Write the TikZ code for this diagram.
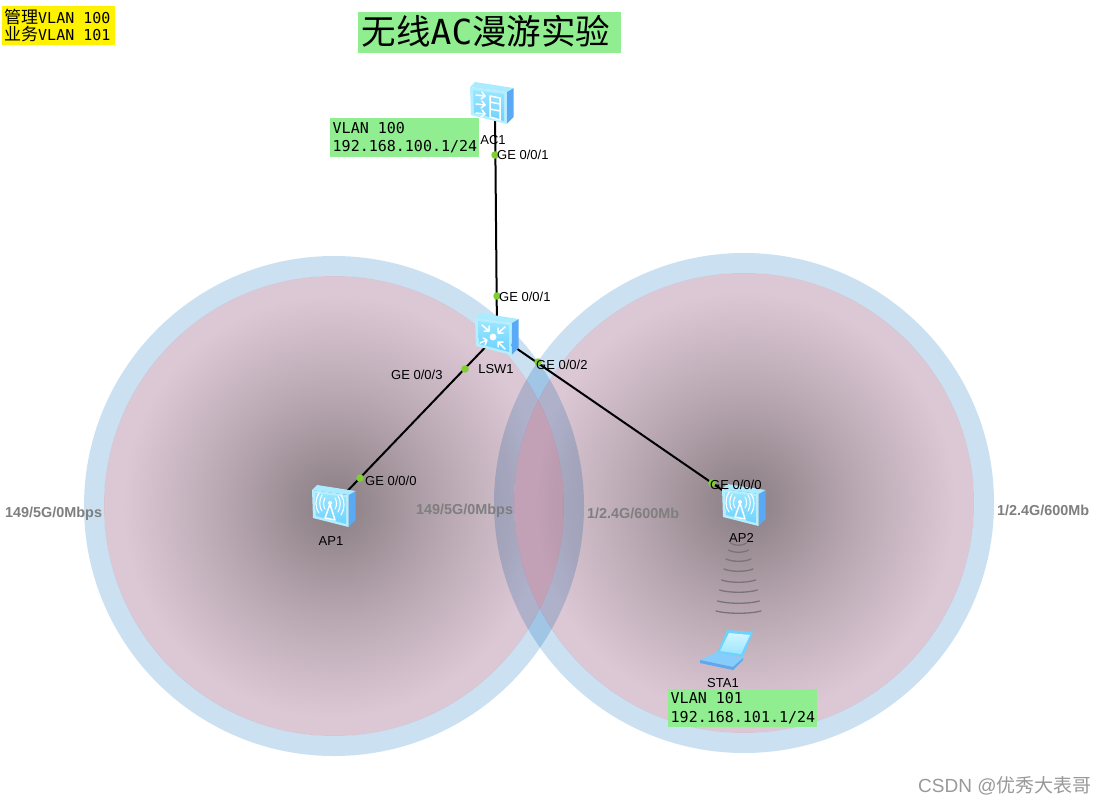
\documentclass[tikz,border=0pt]{standalone}
\usepackage{fontspec}
\setmainfont{Liberation Sans}
\newfontfamily\cjkfont{Noto Sans CJK SC}
\newfontfamily\monofont{DejaVu Sans Mono}
\usetikzlibrary{calc}
\definecolor{ringblue}{HTML}{CBE1F2}
\definecolor{pinkedge}{HTML}{DCC8D5}
\definecolor{pinkcore}{HTML}{8A7D83}
\definecolor{lenspink}{HTML}{E2CEDB}
\definecolor{notegreen}{HTML}{90EE90}
\definecolor{portgreen}{HTML}{7FD02E}
\definecolor{bandgray}{HTML}{7A7478}
\definecolor{rangegray}{HTML}{7F7F7F}
\definecolor{boxedge}{HTML}{B4EFFF}
\definecolor{boxtop}{HTML}{ABEBFF}
\definecolor{boxside}{HTML}{5AA9F5}
\definecolor{boxinA}{HTML}{9BE6FF}
\definecolor{boxinB}{HTML}{6ED2FF}
\definecolor{lapbase}{HTML}{86CDFB}
\definecolor{lapedge}{HTML}{5FA8EE}
\pgfdeclareradialshading{cell}{\pgfpoint{0pt}{0pt}}{
  color(0bp)=(pinkcore); color(12.5bp)=(pinkcore!42!pinkedge); color(23bp)=(pinkedge); color(50bp)=(pinkedge)}
\tikzset{
  x=1pt,y=-1pt,
  anchorpt/.style={inner sep=0pt,minimum size=30pt},
  link/.style={line width=2pt,black},
  port/.style={circle,fill=portgreen,inner sep=0pt,minimum size=7.5pt},
  portlabel/.style={font=\fontsize{13}{15}\selectfont,text=black,inner sep=0pt,anchor=west},
  devlabel/.style={font=\fontsize{13}{15}\selectfont,text=black,inner sep=0pt},
  rangelabel/.style={font=\bfseries\fontsize{14.4}{16}\selectfont,text=rangegray,inner sep=0pt,anchor=west},
  greennote/.style={fill=notegreen,inner sep=0pt,anchor=north west,align=flush left,text=black},
  yellownote/.style={fill=yellow,inner sep=0pt,anchor=north west,align=flush left,text=black},
  wave/.style={line width=1.3pt,bandgray,line cap=round},
  glyph/.style={draw=white,line width=1.5pt,line cap=round,line join=round},
  thinglyph/.style={draw=white,line width=1.1pt,line cap=round},
}
\newcommand{\devbox}[1]{%
  \begin{scope}[shift={(#1)}]
    \fill[boxside] (14.5,-11) -- (21.5,-15) -- (21.5,14) -- (14.5,21) -- cycle;
    \fill[boxtop] (-22,-16) -- (-17,-21) -- (21.5,-15) -- (14.5,-11) -- cycle;
    \fill[boxedge] (-22,-16) -- (14.5,-11) -- (14.5,21) -- (-21,12) -- cycle;
    \shade[top color=boxinA,bottom color=boxinB] (-19,-13) -- (12,-9) -- (12,18) -- (-18,10) -- cycle;
  \end{scope}}
\begin{document}
\begin{tikzpicture}
\path[use as bounding box] (0,0) rectangle (1105,805);
\fill[white] (0,0) rectangle (1105,805);
% coverage cells
\shade[shading=cell] (334,506) circle (230);
\shade[shading=cell] (744,503) circle (230);
\begin{scope}
  \clip (334,506) circle (230);
  \fill[lenspink,blend mode=multiply] (744,503) circle (230);
\end{scope}
\begin{scope}[blend mode=multiply]
\fill[ringblue,even odd rule] (334,506) circle (250) (334,506) circle (230);
\fill[ringblue,even odd rule] (744,503) circle (250) (744,503) circle (230);
\end{scope}
% devices (anchors)
\node[anchorpt] (AC1) at (495,110) {};
\node[anchorpt] (LSW1) at (497,335) {};
\node[anchorpt] (AP1) at (334,505) {};
\node[anchorpt] (AP2) at (744,505) {};
\node[anchorpt] (STA1) at (727,650) {};
% links
\draw[link] (AC1.center) -- (LSW1.center);
\draw[link] (LSW1.center) -- (AP1.center);
\draw[link] (LSW1.center) -- (AP2.center);
% wireless
\foreach \yy/\hw in {545/8,552/10,561/12.5,571/14.5,582/17,592/19,603/21,613/22.5}
  \draw[wave] (738.5-\hw,\yy-2) .. controls (738.5-\hw/2,\yy+1) and (738.5+\hw/2,\yy+1) .. (738.5+\hw,\yy-2);
% icons
\devbox{492,103}
\begin{scope}[shift={(492,103)}]
  \foreach \yy in {-8,1,10}{
    \draw[glyph] (-16,\yy) -- (-7,\yy+1);
    \draw[glyph] (-10,\yy-3) -- (-7,\yy+1) -- (-11,\yy+4);
  }
  \draw[glyph] (-2,-7) -- (8,-5) -- (8,17) -- (-2,14) -- cycle (-2,-1) -- (8,1) (-2,6) -- (8,8);
\end{scope}
\devbox{497,334}
\begin{scope}[shift={(497,334)}]
  \fill[white] (-4,3) circle (3.4);
  \draw[glyph] (-15,-9) -- (-8,-3) (-13,-3) -- (-8,-3) -- (-8,-8);
  \draw[glyph] (8,-7) -- (1,-1) (1,-6) -- (1,-1) -- (6,-1);
  \draw[glyph] (-17,9) -- (-10,6) (-14,4) -- (-10,6) -- (-12,11);
  \draw[glyph] (8,15) -- (1,8) (6,8) -- (1,8) -- (1,13);
\end{scope}
\devbox{334,506}
\devbox{744,505}
\foreach \ax/\ay in {334/506,744/505}{
\begin{scope}[shift={(\ax,\ay)}]
  \draw[white,line width=1.5pt,line join=round] (-9,12) -- (-4,-2) -- (1,14) -- cycle;
  \fill[white] (-4,-3) circle (2);
  \draw[thinglyph] (-9,-8) .. controls (-11,-5) and (-11,0) .. (-9,3);
  \draw[thinglyph] (-12,-11) .. controls (-15,-6) and (-15,1) .. (-12,5);
  \draw[thinglyph] (-15,-13) .. controls (-19,-7) and (-19,2) .. (-15,7);
  \draw[thinglyph] (1,-8) .. controls (3,-5) and (3,0) .. (1,3);
  \draw[thinglyph] (4,-10) .. controls (7,-6) and (7,1) .. (4,6);
  \draw[thinglyph] (7,-11) .. controls (11,-6) and (11,3) .. (7,9);
\end{scope}}
% laptop
\fill[boxinB] (727,630) -- (753,632) -- (743,657) -- (717,653) -- cycle;
\shade[top color=boxedge!60!white,bottom color=boxinA] (729,633) -- (750,635) -- (741,654) -- (720,651) -- cycle;
\fill[lapbase] (700,660) -- (717,652) -- (743,658) -- (733,667) -- cycle;
\fill[lapedge] (700,660) -- (733,667) -- (733,670) -- (700,663) -- cycle;
\fill[lapedge] (733,667) -- (743,658) -- (743,660) -- (733,670) -- cycle;
% port points
\node[port] (p1) at (495,155) {};
\node[port] (p2) at (497,296) {};
\node[port] (p3) at (465,369) {};
\node[port] (p4) at (538,362) {};
\node[port] (p5) at (360,478) {};
\node[port] (p6) at (712,483) {};
\node[portlabel] (l1) at (497,155) {GE 0/0/1};
\node[portlabel] (l2) at (499,297) {GE 0/0/1};
\node[portlabel] (l3) at (391,375) {GE 0/0/3};
\node[portlabel] (l4) at (536,365) {GE 0/0/2};
\node[portlabel] (l5) at (365,481) {GE 0/0/0};
\node[portlabel] (l6) at (710,485) {GE 0/0/0};
% device labels
\node[devlabel] (t1) at (493,140) {AC1};
\node[devlabel] (t2) at (496,369) {LSW1};
\node[devlabel] (t3) at (331,541) {AP1};
\node[devlabel] (t4) at (741.5,538) {AP2};
\node[devlabel] (t5) at (723,683) {STA1};
% band labels
\node[rangelabel] (b1) at (5,514) {149/5G/0Mbps};
\node[rangelabel] (b2) at (416,511) {149/5G/0Mbps};
\node[rangelabel] (b3) at (587,513) {1/2.4G/600Mb};
\node[rangelabel] (b4) at (997,510) {1/2.4G/600Mb};
% notes
\node[greennote,minimum width=149pt,minimum height=39pt,text width=147pt,font=\monofont\fontsize{15}{18.5}\selectfont] (n1) at (330,118) {\hspace*{1.5pt}VLAN 100\\\hspace*{1.5pt}192.168.100.1/24};
\node[greennote,minimum width=149pt,minimum height=38pt,text width=147pt,font=\monofont\fontsize{15}{18.5}\selectfont] (n2) at (668,689) {\hspace*{1.5pt}VLAN 101\\\hspace*{1.5pt}192.168.101.1/24};
\node[yellownote,minimum width=113pt,minimum height=39pt,font=\monofont\fontsize{15}{17}\selectfont,text width=113pt] (n3) at (2,6) {\hspace*{2pt}{\cjkfont\fontsize{17}{17}\selectfont 管理}VLAN 100\\\hspace*{2pt}{\cjkfont\fontsize{17}{17}\selectfont 业务}VLAN 101};
\node[fill=notegreen,inner sep=0pt,minimum width=263pt,minimum height=41pt,text=black] (title) at (489.5,32.5) {};
\node[inner sep=0pt,font=\monofont\fontsize{34.5}{38}\selectfont,text=black] (titletext) at (486,31) {{\cjkfont 无线}AC{\cjkfont 漫游实验}};
\node[inner sep=0pt,anchor=west,text=gray!80,font=\fontsize{19}{21}\selectfont] (wm) at (918,786) {CSDN @{\cjkfont 优秀大表哥}};
\end{tikzpicture}
\end{document}
